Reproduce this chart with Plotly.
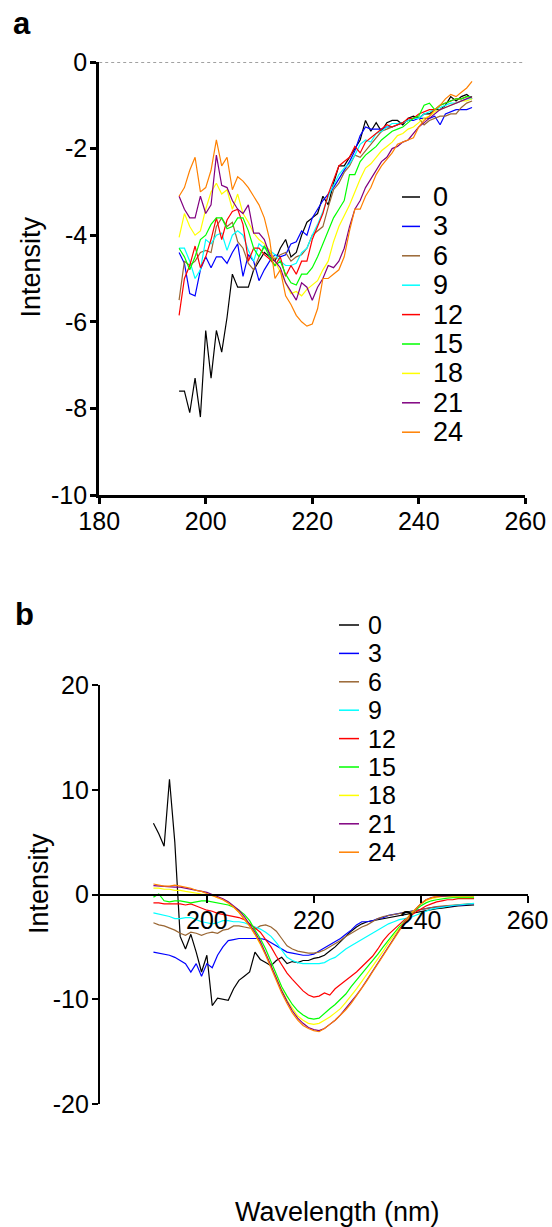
import plotly.graph_objects as go

# ---------------- data ----------------
time_labels = ["0", "3", "6", "9", "12", "15", "18", "21", "24"]
line_colors = ["#000000", "#0000ff", "#996633", "#00ffff", "#ff0000",
               "#00ff00", "#ffff00", "#800080", "#ff8000"]

# panel a: 195-250 nm
wl_a = list(range(195, 251))
a_0 = [-7.6, -7.6, -8.1, -7.3, -8.2, -6.2, -7.3, -6.2, -6.7, -5.9,
       -4.9, -5.2, -5.2, -5.2, -4.8, -4.6, -4.4, -4.5, -4.6, -4.3,
       -4.1, -4.5, -4.4, -4.0, -3.7, -3.6, -3.5, -3.1, -3.3, -2.8,
       -2.4, -2.4, -2.2, -2.0, -1.8, -1.35, -1.6, -1.4, -1.6, -1.4,
       -1.35, -1.35, -1.45, -1.3, -1.25, -1.3, -1.2, -1.2, -1.1, -1.1,
       -1.0, -0.8, -0.9, -0.8, -0.75, -0.85]
a_3 = [-4.4, -4.65, -5.35, -5.4, -4.8, -4.5, -4.75, -4.5, -4.5, -4.65,
       -4.4, -4.2, -4.95, -4.45, -4.6, -5.05, -4.8, -4.6, -4.45, -4.5,
       -4.45, -4.2, -4.15, -3.9, -4.0, -3.6, -3.4, -3.2, -3.05, -2.9,
       -2.7, -2.5, -2.3, -2.05, -1.7, -1.5, -1.55, -1.55, -1.55, -1.5,
       -1.5, -1.45, -1.4, -1.35, -1.35, -1.3, -1.3, -1.3, -1.25, -1.45,
       -1.2, -1.15, -1.1, -1.1, -1.1, -1.05]
a_6 = [-5.5, -4.6, -4.7, -4.6, -4.4, -4.35, -4.4, -3.8, -3.6, -3.8,
       -3.7, -4.15, -4.3, -4.65, -4.8, -4.5, -4.25, -4.4, -4.55, -4.45,
       -4.4, -4.6, -4.5, -4.45, -4.3, -4.0, -3.9, -3.8, -3.35, -2.95,
       -2.8, -2.55, -2.4, -2.15, -2.2, -2.05, -1.9, -1.75, -1.6, -1.55,
       -1.5, -1.45, -1.4, -1.35, -1.3, -1.3, -1.45, -1.35, -1.3, -1.25,
       -1.25, -1.2, -1.2, -1.05, -0.95, -0.9]
a_9 = [-4.3, -4.3, -4.6, -5.0, -4.8, -4.1, -4.2, -4.0, -3.95, -4.35,
       -4.0, -3.9, -4.0, -4.35, -4.6, -4.2, -4.3, -4.35, -4.45, -4.6,
       -4.7, -4.7, -4.65, -4.4, -4.3, -4.0, -3.75, -3.45, -3.1, -2.85,
       -2.6, -2.45, -2.35, -2.15, -1.9, -1.8, -1.85, -1.65, -1.6, -1.5,
       -1.42, -1.42, -1.4, -1.35, -1.3, -1.3, -1.2, -1.15, -1.1, -1.05,
       -1.0, -0.95, -0.95, -0.9, -0.85, -0.85]
a_12 = [-5.85, -5.0, -4.7, -4.25, -4.75, -4.5, -4.1, -3.6, -4.1, -3.65,
        -3.45, -3.4, -3.75, -4.6, -4.3, -4.3, -4.45, -4.55, -4.7, -4.5,
        -4.95, -4.7, -4.9, -4.6, -4.6, -4.1, -3.8, -3.5, -3.05, -2.7,
        -2.4, -2.3, -2.2, -1.95, -2.1, -1.85, -1.75, -1.65, -1.55, -1.45,
        -1.5, -1.45, -1.4, -1.3, -1.3, -1.2, -1.15, -1.1, -1.1, -1.0,
        -0.95, -0.9, -0.85, -0.85, -0.8, -0.8]
a_15 = [-4.3, -4.5, -4.8, -4.5, -4.1, -4.0, -3.75, -3.6, -3.6, -3.85,
        -3.8, -3.6, -3.6, -3.9, -4.3, -4.5, -4.25, -4.5, -4.7, -4.6,
        -4.9, -5.1, -5.15, -4.9, -4.9, -4.75, -4.5, -4.2, -3.9, -3.6,
        -3.4, -3.2, -2.6, -2.6, -2.3, -2.15, -2.05, -1.95, -1.8, -1.7,
        -1.6, -1.55, -1.5, -1.4, -1.3, -1.25, -1.0, -0.95, -1.1, -1.0,
        -0.95, -0.9, -0.85, -0.85, -0.8, -0.8]
a_18 = [-4.05, -3.5, -3.8, -4.0, -3.9, -3.4, -3.0, -2.8, -3.05, -2.95,
        -3.4, -3.05, -3.5, -3.7, -3.95, -4.1, -4.2, -4.35, -4.6, -4.85,
        -5.1, -5.35, -5.3, -5.4, -5.25, -5.15, -5.05, -4.8, -4.6, -4.15,
        -3.8, -3.55, -3.3, -3.0, -2.7, -2.45, -2.35, -2.2, -2.05, -1.95,
        -1.85, -1.7, -1.65, -1.55, -1.5, -1.4, -1.3, -1.25, -1.15, -1.1,
        -1.05, -1.0, -0.95, -0.9, -0.9, -0.85]
a_21 = [-3.1, -3.4, -3.6, -3.6, -3.1, -3.5, -3.3, -2.15, -2.85, -2.9,
        -3.2, -3.4, -3.5, -3.3, -3.95, -3.95, -4.1, -4.45, -4.6, -4.75,
        -5.1, -5.3, -5.5, -5.1, -5.2, -5.5, -5.2, -5.0, -4.7, -4.75,
        -4.6, -4.3, -3.8, -3.4, -3.2, -2.9, -2.7, -2.5, -2.3, -2.2,
        -2.0, -1.95, -1.85, -1.8, -1.65, -1.5, -1.4, -1.3, -1.2, -1.1,
        -1.05, -1.0, -0.95, -0.9, -0.85, -0.8]
a_24 = [-3.1, -2.9, -2.5, -2.2, -3.0, -2.9, -2.5, -1.8, -2.4, -2.2,
        -2.95, -2.65, -2.75, -2.9, -3.1, -3.3, -3.6, -4.1, -5.0, -4.8,
        -5.4, -5.6, -5.85, -6.0, -6.1, -6.05, -5.7, -5.0, -5.0, -4.9,
        -4.8, -4.5, -3.9, -3.4, -3.4, -3.1, -2.9, -2.6, -2.4, -2.25,
        -2.1, -1.9, -1.85, -1.8, -1.75, -1.5, -1.35, -1.25, -1.1, -1.0,
        -0.85, -0.75, -0.8, -0.7, -0.6, -0.45]

# panel b: 190-250 nm
wl_b = list(range(190, 251))
b_0 = [6.8, 5.8, 4.6, 11.0, 5.0, -4.0, -5.2, -3.8, -5.5, -7.4,
       -5.8, -10.6, -9.9, -10.0, -10.1, -9.0, -8.2, -7.8, -7.4, -5.5,
       -6.2, -6.5, -6.8, -6.3, -6.0, -6.6, -6.4, -6.5, -6.3, -6.3,
       -6.1, -6.0, -5.8, -5.4, -5.0, -4.5, -4.0, -3.5, -3.1, -2.8,
       -2.6, -2.5, -2.4, -2.3, -2.2, -2.1, -2.0, -1.9, -1.8, -1.7,
       -1.6, -1.5, -1.4, -1.35, -1.3, -1.2, -1.15, -1.1, -1.05, -1.0,
       -1.0]
b_3 = [-5.5, -5.6, -5.7, -5.8, -6.0, -6.3, -6.6, -7.4, -6.6, -7.8,
       -6.6, -7.0, -5.8, -5.0, -4.4, -4.3, -4.2, -4.2, -4.2, -4.2,
       -4.2, -4.3, -4.6, -4.9, -5.2, -5.5, -5.6, -5.7, -5.8, -5.8,
       -5.7, -5.4, -5.1, -4.8, -4.5, -4.2, -3.8, -3.4, -2.9, -2.6,
       -2.6, -2.5, -2.3, -2.2, -2.0, -1.9, -1.8, -1.7, -1.6, -1.5,
       -1.4, -1.3, -1.25, -1.2, -1.15, -1.1, -1.05, -1.0, -1.0, -0.95,
       -0.9]
b_6 = [-2.7, -2.9, -3.0, -3.2, -3.4, -3.7, -3.9, -3.6, -3.7, -3.9,
       -3.7, -3.6, -3.7, -3.4, -3.3, -3.0, -3.0, -3.1, -3.2, -3.3,
       -3.0, -2.9, -3.1, -3.5, -4.2, -4.9, -5.2, -5.4, -5.5, -5.6,
       -5.6, -5.5, -5.3, -5.0, -4.7, -4.4, -4.0, -3.7, -3.4, -3.1,
       -2.9, -2.6, -2.3, -2.1, -2.0, -1.9, -1.8, -1.7, -1.6, -1.5,
       -1.4, -1.3, -1.2, -1.15, -1.1, -1.05, -1.0, -0.95, -0.95, -0.9,
       -0.9]
b_9 = [-1.75, -1.85, -2.0, -2.1, -2.3, -2.3, -2.2, -2.2, -2.4, -2.6,
       -2.7, -2.8, -2.7, -2.5, -2.5, -2.6, -2.6, -2.7, -2.9, -3.1,
       -3.3, -3.6, -4.0, -4.6, -5.3, -6.0, -6.3, -6.5, -6.6, -6.6,
       -6.6, -6.6, -6.5, -6.2, -6.0, -5.6, -5.2, -4.9, -4.6, -4.3,
       -4.0, -3.7, -3.4, -3.1, -2.8, -2.6, -2.4, -2.3, -2.2, -2.0,
       -1.8, -1.6, -1.4, -1.3, -1.2, -1.1, -1.05, -1.0, -0.95, -0.9,
       -0.85]
b_12 = [-0.8, -0.8, -0.9, -0.9, -0.9, -0.9, -1.0, -0.9, -1.1, -1.3,
        -1.5, -1.6, -1.8, -1.9, -2.0, -2.1, -2.2, -2.4, -2.8, -3.2,
        -3.6, -4.3, -5.0, -5.9, -6.7, -7.5, -8.1, -8.7, -9.2, -9.6,
        -9.8, -9.7, -9.4, -9.6, -9.0, -8.6, -8.2, -7.8, -7.4, -6.9,
        -6.4, -5.9, -5.2, -4.4, -3.8, -3.3, -2.9, -2.4, -2.1, -1.7,
        -1.4, -1.1, -0.9, -0.7, -0.6, -0.5, -0.5, -0.4, -0.4, -0.4,
        -0.4]
b_15 = [-0.25, 0.05, -0.6, -0.7, -0.6, -0.6, -0.7, -0.8, -0.7, -0.6,
        -0.6, -0.7, -0.8, -0.9, -1.0, -1.2, -1.5, -1.9, -2.5, -3.4,
        -4.2, -5.2, -6.4, -7.6, -8.8, -9.7, -10.5, -11.1, -11.5, -11.8,
        -11.9, -11.8, -11.3, -10.9, -10.5, -10.0, -9.5, -8.8, -8.2, -7.6,
        -7.0, -6.3, -5.7, -5.0, -4.3, -3.7, -3.1, -2.5, -2.0, -1.5,
        -1.1, -0.8, -0.6, -0.5, -0.4, -0.35, -0.3, -0.3, -0.3, -0.3,
        -0.3]
b_18 = [0.6, 0.6, 0.5, 0.5, 0.4, 0.4, 0.3, 0.2, 0.1, 0.05,
        0.0, -0.1, -0.3, -0.5, -0.8, -1.2, -1.7, -2.3, -3.0, -3.8,
        -4.7, -5.7, -6.8, -8.0, -9.1, -10.1, -10.9, -11.6, -12.0, -12.3,
        -12.4, -12.3, -12.0, -11.7, -11.3, -10.9, -10.3, -9.7, -9.0, -8.3,
        -7.6, -6.9, -6.1, -5.4, -4.6, -3.9, -3.2, -2.5, -1.9, -1.4,
        -0.9, -0.6, -0.4, -0.3, -0.2, -0.2, -0.2, -0.2, -0.2, -0.2,
        -0.2]
b_21 = [0.85, 0.8, 0.75, 0.75, 0.7, 0.7, 0.6, 0.5, 0.4, 0.3,
        0.2, 0.0, -0.2, -0.4, -0.7, -1.1, -1.5, -2.1, -2.8, -3.6,
        -4.5, -5.6, -6.8, -8.0, -9.2, -10.2, -11.1, -11.8, -12.3, -12.7,
        -12.9, -13.0, -12.8, -12.4, -12.0, -11.5, -10.9, -10.3, -9.6, -8.9,
        -8.1, -7.3, -6.5, -5.7, -4.9, -4.1, -3.3, -2.6, -2.0, -1.4,
        -0.9, -0.5, -0.3, -0.2, -0.15, -0.1, -0.1, -0.1, -0.1, -0.1,
        -0.1]
b_24 = [1.0, 0.9, 0.8, 0.8, 0.9, 0.8, 0.7, 0.6, 0.4, 0.3,
        0.1, -0.1, -0.3, -0.5, -0.8, -1.2, -1.7, -2.3, -3.0, -3.8,
        -4.7, -5.8, -7.0, -8.2, -9.4, -10.4, -11.3, -12.0, -12.5, -12.8,
        -13.0, -13.1, -12.8, -12.4, -12.0, -11.5, -11.0, -10.4, -9.7, -9.0,
        -8.2, -7.4, -6.6, -5.8, -5.0, -4.2, -3.4, -2.7, -2.0, -1.4,
        -0.9, -0.5, -0.3, -0.15, -0.1, -0.05, -0.05, -0.05, 0.0, 0.0,
        0.0]

series_a = [a_0, a_3, a_6, a_9, a_12, a_15, a_18, a_21, a_24]
series_b = [b_0, b_3, b_6, b_9, b_12, b_15, b_18, b_21, b_24]

# tick positions
xticks_a = [180, 200, 220, 240, 260]
yticks_a = [-10, -8, -6, -4, -2, 0]
xticks_b = [200, 220, 240, 260]
yticks_b = [-20, -10, 0, 10, 20]

# ---------------- layout helpers ----------------
W, H = 552, 1227
FONT = "Liberation Sans, Arial, sans-serif"


def fx(px):
    return px / W


def fy(py):
    return 1 - py / H


def labels(vals):
    # plain hyphen-minus for negative numbers
    return [str(v) for v in vals]


fig = go.Figure()

for lab, col, ya in zip(time_labels, line_colors, series_a):
    fig.add_trace(go.Scatter(x=wl_a, y=ya, mode="lines", name=lab,
                             line=dict(color=col, width=1.2),
                             xaxis="x", yaxis="y", showlegend=False))
for lab, col, yb in zip(time_labels, line_colors, series_b):
    fig.add_trace(go.Scatter(x=wl_b, y=yb, mode="lines", name=lab,
                             line=dict(color=col, width=1.2),
                             xaxis="x2", yaxis="y2", showlegend=False))

axis_common = dict(showgrid=False, zeroline=False, showline=True,
                   linecolor="black", ticks="outside", tickcolor="black",
                   tickfont=dict(family=FONT, size=25, color="black"))

ya2_dom = [fy(1104), fy(685)]
yb_range = [-20, 20]
# paper position of the zero line of panel b
zero_pos = ya2_dom[0] + (0 - yb_range[0]) / (yb_range[1] - yb_range[0]) * (ya2_dom[1] - ya2_dom[0])

fig.update_layout(
    width=W, height=H,
    margin=dict(l=0, r=0, t=0, b=0, autoexpand=False),
    paper_bgcolor="white", plot_bgcolor="white",
    xaxis=dict(domain=[fx(99.2), fx(525.3)], range=[180, 260],
               tickvals=xticks_a, ticktext=labels(xticks_a), anchor="y",
               linewidth=3, tickwidth=2.5, ticklen=6, ticklabelstandoff=-4,
               **axis_common),
    yaxis=dict(domain=[fy(495), fy(62)], range=[-10, 0],
               tickvals=yticks_a, ticktext=labels(yticks_a), anchor="x",
               linewidth=3, tickwidth=2.5, ticklen=6, ticklabelstandoff=-2,
               **axis_common),
    xaxis2=dict(domain=[fx(100), fx(527.5)], range=[180, 260],
                tickvals=xticks_b, ticktext=labels(xticks_b), anchor="free",
                position=zero_pos,
                linewidth=2.2, tickwidth=2, ticklen=7, ticklabelstandoff=-4,
                **axis_common),
    yaxis2=dict(domain=ya2_dom, range=yb_range,
                tickvals=yticks_b, ticktext=labels(yticks_b), anchor="x2",
                linewidth=2.2, tickwidth=2, ticklen=6, ticklabelstandoff=-2,
                **axis_common),
    showlegend=False,
)

# dotted reference line at zero in panel a
fig.add_shape(type="line", xref="x", yref="y", x0=180, x1=260, y0=0, y1=0,
              line=dict(color="#444444", width=1, dash="dot"), layer="below")

# legends drawn as short line samples with labels
legend_specs = [
    dict(x0=402, x1=420, tx=431, y0=197, dy=29.4, size=27),
    dict(x0=339, x1=359, tx=366, y0=625, dy=28.4, size=25),
]
for spec in legend_specs:
    for i, (lab, col) in enumerate(zip(time_labels, line_colors)):
        yc = spec["y0"] + i * spec["dy"]
        fig.add_shape(type="line", xref="paper", yref="paper",
                      x0=fx(spec["x0"]), x1=fx(spec["x1"]),
                      y0=fy(yc), y1=fy(yc), line=dict(color=col, width=1.5))
        fig.add_annotation(x=fx(spec["tx"]), y=fy(yc), xref="paper", yref="paper",
                           text=lab, showarrow=False, xanchor="left", yanchor="middle",
                           font=dict(family=FONT, size=spec["size"], color="black"))

# panel letters and axis titles
texts = [
    dict(text="<b>a</b>", x=22, y=23, size=31, angle=0),
    dict(text="<b>b</b>", x=24, y=614, size=31, angle=0),
    dict(text="Intensity", x=30.5, y=267, size=27, angle=-90),
    dict(text="Intensity", x=39, y=884, size=27, angle=-90),
    dict(text="Wavelength (nm)", x=337, y=1212, size=27, angle=0),
]
for t in texts:
    fig.add_annotation(x=fx(t["x"]), y=fy(t["y"]), xref="paper", yref="paper",
                       text=t["text"], showarrow=False, textangle=t["angle"],
                       xanchor="center", yanchor="middle",
                       font=dict(family=FONT, size=t["size"], color="black"))

fig.write_html("out.html")
